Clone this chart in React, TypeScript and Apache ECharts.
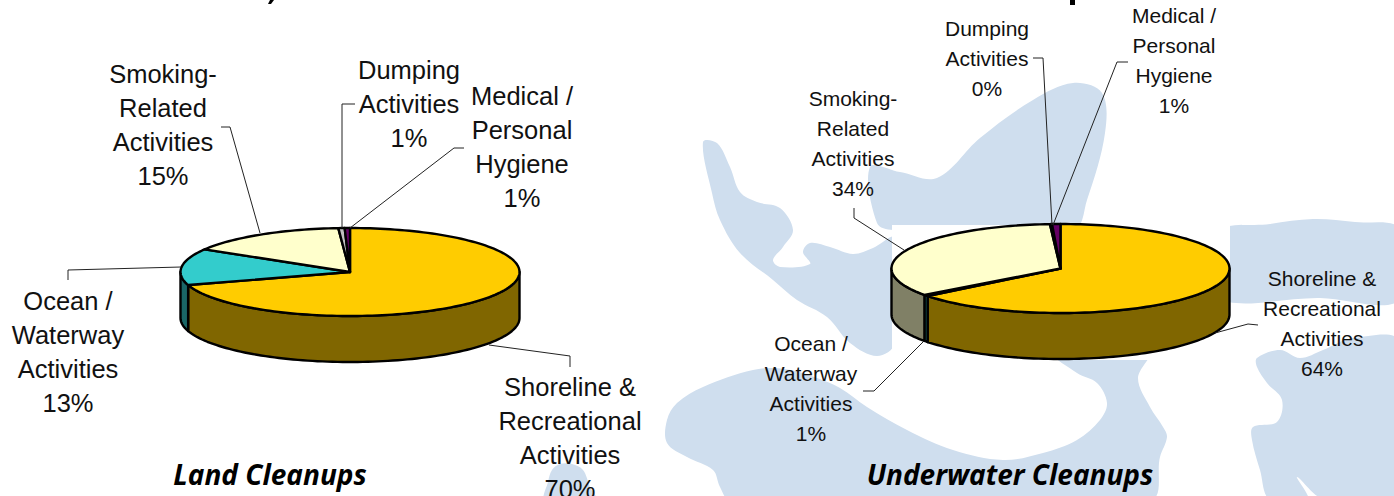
import React, { useEffect, useRef } from "react";
import * as echarts from "echarts";

// ---- data ----
const categories = [
  "Shoreline &\nRecreational\nActivities",
  "Ocean /\nWaterway\nActivities",
  "Smoking-\nRelated\nActivities",
  "Dumping\nActivities",
  "Medical /\nPersonal\nHygiene",
];
const landValues = [70.2, 13.4, 15.3, 0.6, 0.5];
const underwaterValues = [64.4, 0.5, 34.1, 0.2, 0.8];
const chartTitles = ["Land Cleanups", "Underwater Cleanups"];
const topColors = ["#FFCC00", "#33CCCC", "#FFFFCC", "#C0C0C0", "#660066"];
const wallColors = ["#806600", "#1A6666", "#808066", "#606060", "#330033"];

// ---- layout ----
const WATER = "#CFDEEE";
const FONT = '"Liberation Sans", Arial, sans-serif';
const landPie = { cx: 350, cy: 272, rx: 169.5, ry: 44, depth: 46 };
const waterPie = { cx: 1060.5, cy: 268.5, rx: 169, ry: 44.5, depth: 46 };

const landLabelPos = [[570, 438], [68, 352], [163, 125], [409, 104], [522, 147]];
const waterLabelPos = [[1322, 323], [811, 388], [853, 143], [987, 58], [1174, 60]];

const landLeaders = [
  [[570, 367], [570, 356], [489, 345]],
  [[68, 280], [68, 270], [181, 267]],
  [[221, 127], [230, 127], [260, 233]],
  [[355, 104], [342, 104], [342, 228]],
  [[464, 148], [454, 148], [350, 228]],
];
const waterLeaders = [
  [[1258, 325], [1248, 324], [1215, 333]],
  [[863, 391], [874, 391], [923, 342]],
  [[854, 208], [854, 218], [904, 250]],
  [[1033, 58], [1043, 58], [1052, 225]],
  [[1128, 62], [1117, 62], [1053, 225]],
];

const backgroundShapes = [
  [[703, 142], [717, 143], [730, 167], [740, 192], [757, 202], [780, 208], [793, 230], [783, 247], [773, 260], [780, 267], [810, 264], [803, 252], [810, 243], [830, 247], [853, 254], [873, 248], [895, 238], [895, 343], [877, 356], [850, 343], [827, 317], [797, 300], [773, 280], [740, 253], [720, 220], [712, 193]],
  [[870, 167], [900, 172], [937, 178], [980, 138], [1033, 100], [1073, 83], [1102, 93], [1105, 133], [1087, 200], [1073, 230], [893, 230], [877, 223]],
  [[667, 420], [677, 403], [703, 387], [753, 370], [785, 369], [817, 378], [840, 388], [867, 407], [907, 430], [953, 450], [1003, 460], [1043, 453], [1077, 440], [1100, 420], [1107, 403], [1097, 383], [1077, 373], [1050, 350], [1150, 350], [1138, 378], [1150, 407], [1163, 427], [1167, 437], [1160, 457], [1150, 500], [730, 500], [720, 487], [713, 470], [687, 457], [667, 443]],
  [[1215, 233], [1270, 224], [1313, 219], [1355, 222], [1400, 229], [1400, 300], [1320, 298], [1215, 297]],
  [[1257, 358], [1280, 350], [1300, 358], [1323, 350], [1353, 338], [1400, 342], [1400, 500], [1325, 500], [1297, 477], [1308, 500], [1270, 500], [1260, 470], [1252, 440], [1253, 427], [1277, 422], [1282, 400], [1267, 383], [1257, 367]],
  [[552, 470], [560, 464], [572, 464], [583, 470], [590, 487], [596, 500], [545, 500], [548, 482]],
];

type Pie = typeof landPie;

function rim(p: Pie, a: number, dy = 0) {
  return [p.cx + p.rx * Math.sin(a), p.cy - p.ry * Math.cos(a) + dy];
}
function arc(p: Pie, a0: number, a1: number, dy = 0) {
  const n = Math.max(2, Math.ceil(Math.abs(a1 - a0) / 0.03));
  const out: number[][] = [];
  for (let i = 0; i <= n; i++) out.push(rim(p, a0 + ((a1 - a0) * i) / n, dy));
  return out;
}

function pieSeries(values: number[], p: Pie) {
  const total = values.reduce((a, b) => a + b, 0);
  return {
    type: "custom",
    coordinateSystem: "none",
    silent: true,
    data: values.map((v) => [v]),
    renderItem: (params: any, api: any) => {
      const i = params.dataIndex;
      const before = values.slice(0, i).reduce((a, b) => a + b, 0);
      const a0 = (before / total) * 2 * Math.PI;
      const a1 = ((before + api.value(0)) / total) * 2 * Math.PI;
      const children: any[] = [];
      const w0 = Math.max(a0, Math.PI / 2);
      const w1 = Math.min(a1, (3 * Math.PI) / 2);
      if (w1 > w0) {
        const points = [...arc(p, w0, w1), ...arc(p, w1, w0, p.depth)];
        children.push({
          type: "polygon",
          z2: 1,
          shape: { points },
          style: { fill: wallColors[i], stroke: "#000", lineWidth: 2.4, lineJoin: "round" },
        });
      }
      children.push({
        type: "polygon",
        z2: 2,
        shape: { points: [[p.cx, p.cy], ...arc(p, a0, a1)] },
        style: { fill: topColors[i], stroke: "#000", lineWidth: 2.4, lineJoin: "round" },
      });
      return { type: "group", children };
    },
  };
}

function labelTexts(values: number[], pos: number[][], size: number, pitch: number) {
  return categories.map((name, i) => ({
    type: "text",
    z: 20,
    x: pos[i][0],
    y: pos[i][1],
    style: {
      text: `${name}\n${Math.round(values[i])}%`,
      fill: "#111",
      font: `${size}px ${FONT}`,
      lineHeight: pitch,
      align: "center",
      verticalAlign: "middle",
    },
  }));
}

function leaderLines(lines: number[][][]) {
  return lines.map((points) => ({
    type: "polyline",
    z: 10,
    shape: { points },
    style: { stroke: "#222", lineWidth: 1, fill: "none" },
  }));
}

export default function App() {
  const ref = useRef<HTMLDivElement>(null);
  useEffect(() => {
    document.body.style.margin = "0";
    document.body.style.background = "#fff";
    const chart = echarts.init(ref.current!, undefined, { renderer: "svg" });
    chart.setOption({
      animation: false,
      backgroundColor: "#fff",
      series: [pieSeries(landValues, landPie), pieSeries(underwaterValues, waterPie)],
      graphic: {
        elements: [
          ...backgroundShapes.map((points) => ({
            type: "polygon",
            z: -10,
            shape: { points, smooth: 0.35 },
            style: { fill: WATER },
          })),
          {
            type: "rect",
            z: -5,
            shape: { x: 892, y: 225, width: 338, height: 135 },
            style: { fill: "#fff" },
          },
          {
            type: "polygon",
            z: 20,
            shape: { points: [[270, 0], [274, 0], [271, 4], [268, 4]] },
            style: { fill: "#000" },
          },
          {
            type: "polygon",
            z: 20,
            shape: { points: [[1070, 0], [1075, 0], [1075, 5], [1070, 5]] },
            style: { fill: "#000" },
          },
          ...leaderLines(landLeaders),
          ...leaderLines(waterLeaders),
          ...labelTexts(landValues, landLabelPos, 25.5, 34),
          ...labelTexts(underwaterValues, waterLabelPos, 21, 30),
          ...chartTitles.map((t, i) => ({
            type: "text",
            z: 20,
            x: [270, 1010][i],
            y: 474,
            style: {
              text: t,
              fill: "#000",
              font: `italic bold 28px "Open Sans", sans-serif`,
              align: "center",
              verticalAlign: "middle",
            },
          })),
        ],
      },
    });
    return () => chart.dispose();
  }, []);
  return <div ref={ref} style={{ width: 1394, height: 496 }} />;
}
